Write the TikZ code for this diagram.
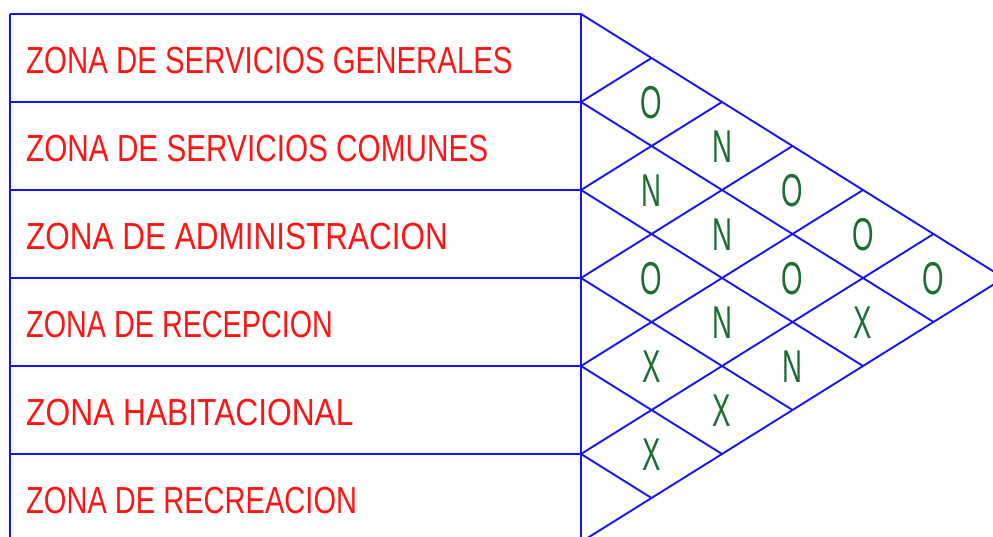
\documentclass[tikz,border=0pt]{standalone}
\usepackage{fontspec}
\newfontfamily\labfont[FakeStretch=0.78]{Liberation Sans}
\newfontfamily\relfont[FakeStretch=0.6]{Liberation Sans}
\definecolor{gridblue}{RGB}{20,20,255}
\definecolor{zred}{RGB}{255,20,20}
\definecolor{relgreen}{RGB}{30,110,50}
\begin{document}
\begin{tikzpicture}[x=1pt,y=-1pt,
  gridline/.style={draw=gridblue, line width=1.9pt, line join=round},
  zlabel/.style={anchor=west, text=zred, inner sep=0pt, text height=27pt, text depth=0pt,
    font=\labfont\fontsize{37.7}{40}\selectfont},
  rel/.style={text=relgreen, inner sep=0pt, text height=33pt, text depth=0pt,
    font=\relfont\fontsize{46}{48}\selectfont}]
\useasboundingbox (0,0) rectangle (993,537);
\clip (0,0) rectangle (993,537);
% boundary coordinates
\foreach \k in {0,...,6}{
  \coordinate (L\k) at (10,{14+88*\k});
  \coordinate (R\k) at (581,{14+88*\k});
  \coordinate (U\k) at ({581+70.5*\k},{14+44*\k});
  \coordinate (D\k) at ({581+70.5*(6-\k)},{278+44*\k});
}
\coordinate (apex) at (1004,278);
% table
\foreach \k in {0,...,6}{ \draw[gridline] (L\k) -- (R\k); }
\draw[gridline] (L0) -- (L6);
\draw[gridline] (R0) -- (R6);
% triangle
\draw[gridline] (R0) -- (apex) -- (R6);
\foreach \k in {1,...,5}{
  \draw[gridline] (R\k) -- (U\k);
  \draw[gridline] (R\k) -- (D\k);
}
% labels
\node[zlabel] (z0) at (26,60) {ZONA DE SERVICIOS GENERALES};
\node[zlabel] (z1) at (26,148) {\scalebox{1.011}[1]{ZONA DE SERVICIOS COMUNES}};
\node[zlabel] (z2) at (26,236) {\scalebox{1.071}[1]{ZONA DE ADMINISTRACION}};
\node[zlabel] (z3) at (26,324) {\scalebox{0.978}[1]{ZONA DE RECEPCION}};
\node[zlabel] (z4) at (26,412) {\scalebox{1.079}[1]{ZONA HABITACIONAL}};
\node[zlabel] (z5) at (26,500) {\scalebox{0.988}[1]{ZONA DE RECREACION}};
% relations: cell (i,j) at x=581+70.5(j-i), y=14+44(i+j+1)
\foreach \i/\j/\t in {0/1/O,0/2/N,1/2/N,0/3/O,1/3/N,2/3/O,0/4/O,1/4/O,2/4/N,3/4/X,
                     0/5/O,1/5/X,2/5/N,3/5/X,4/5/X}{
  \node[rel] (c\i\j) at ({581+70.5*(\j-\i)},{14+44*(\i+\j+1)}) {\t};
}
\end{tikzpicture}
\end{document}
